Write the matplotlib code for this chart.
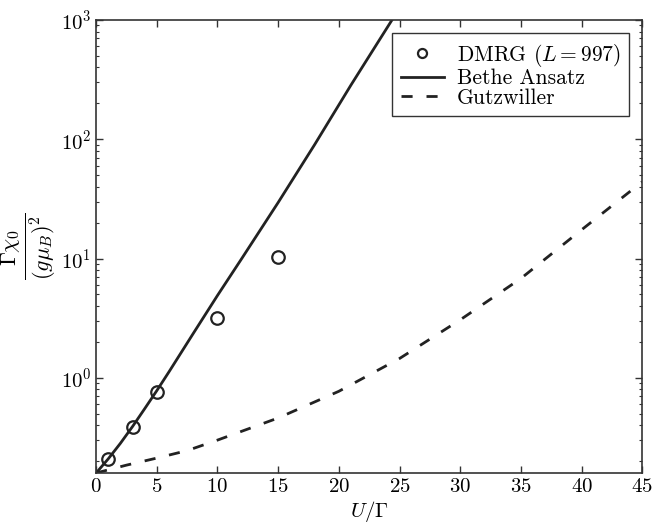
import matplotlib
matplotlib.use("Agg")
import matplotlib.pyplot as plt
from matplotlib.ticker import LogLocator, MultipleLocator, NullFormatter

plt.rcParams["font.family"] = "serif"
plt.rcParams["font.serif"] = ["cmr10"]
plt.rcParams["mathtext.fontset"] = "cm"
plt.rcParams["axes.formatter.use_mathtext"] = True

# DMRG data (L = 997)
dmrg_u = [1, 3, 5, 10, 15]
dmrg_chi = [0.209, 0.383, 0.753, 3.15, 10.3]

# Bethe ansatz curve
bethe_u = [0, 1, 2, 3, 4, 5, 6, 8, 10, 12, 15, 18, 21, 24.5]
bethe_chi = [0.159, 0.209, 0.282, 0.39, 0.55, 0.78, 1.12, 2.35, 4.9,
             10.0, 29.5, 90.0, 285.0, 1047.0]

# Gutzwiller curve
gutz_u = [0, 2.5, 5, 7.5, 10, 15, 20, 25, 30, 35, 40, 45]
gutz_chi = [0.159, 0.185, 0.212, 0.245, 0.30, 0.46, 0.77, 1.45, 3.06,
            6.8, 17.4, 44.0]

fig = plt.figure(figsize=(6.54, 5.27), dpi=100)
ax = fig.add_axes([0.147, 0.1025, 0.835, 0.8595])

ax.plot(dmrg_u, dmrg_chi, "o", mfc="none", mec="#222222", ms=9, mew=1.6,
        label=r"DMRG ($L = 997$)")
ax.plot(bethe_u, bethe_chi, "-", color="#222222", lw=2, label="Bethe Ansatz")
ax.plot(gutz_u, gutz_chi, "--", color="#222222", lw=2, dashes=(4, 5),
        label="Gutzwiller")

ax.set_yscale("log")
ax.set_xlim(0, 45)
ax.set_ylim(0.159, 1000)
ax.xaxis.set_major_locator(MultipleLocator(5))
ax.yaxis.set_major_locator(LogLocator(base=10, numticks=10))
ax.yaxis.set_minor_locator(LogLocator(base=10, subs=range(2, 10), numticks=10))
ax.yaxis.set_minor_formatter(NullFormatter())

ax.tick_params(which="both", direction="in", top=True, right=True,
               labelsize=15, color="#333333")
ax.tick_params(which="major", length=5, width=1)
ax.tick_params(which="minor", length=2.5, width=0.8)
for s in ax.spines.values():
    s.set_color("#333333")
    s.set_linewidth(1.2)

ax.set_xlabel(r"$U/\Gamma$", fontsize=15, labelpad=2)
ax.set_ylabel(r"$\frac{\Gamma\chi_0}{(g\mu_B)^2}$", fontsize=23, labelpad=2)

leg = ax.legend(loc="upper right", fontsize=15.5, numpoints=1, fancybox=False,
                framealpha=1, edgecolor="#333333", handlelength=2.0,
                borderaxespad=0.6, labelspacing=0.0, borderpad=0.4,
                handletextpad=0.6)
leg.get_frame().set_linewidth(1.0)
leg.legend_handles[0].set_markersize(6.5)

fig.savefig("out.png", dpi=100)
